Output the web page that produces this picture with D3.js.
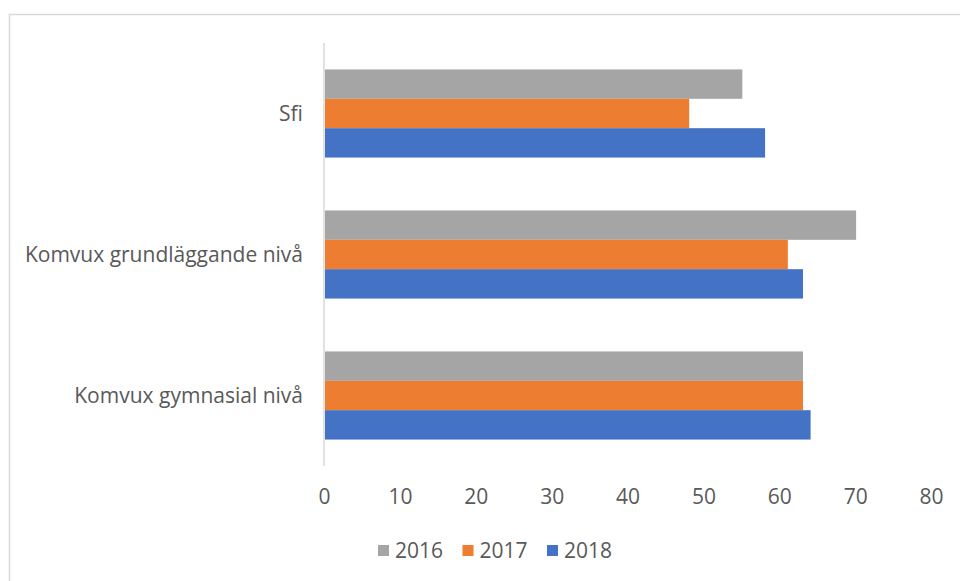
<!DOCTYPE html>
<html>
<head>
<meta charset="utf-8">
<script src="https://cdn.jsdelivr.net/npm/d3@7"></script>
<style>
  html, body { margin: 0; padding: 0; background: #fff; }
  svg { display: block; }
  text { font-family: "Open Sans", sans-serif; fill: #595959; }
</style>
</head>
<body>
<svg id="chart" width="960" height="581"></svg>
<script>
// ---- data ----
const categories = ["Sfi", "Komvux grundläggande nivå", "Komvux gymnasial nivå"];
const seriesNames = ["2016", "2017", "2018"];
const values2016 = [55, 70, 63];
const values2017 = [48, 61, 63];
const values2018 = [58, 63, 64];
const tickValues = [0, 10, 20, 30, 40, 50, 60, 70, 80];
const colors = ["#A5A5A5", "#ED7D31", "#4472C4"];

const seriesValues = [values2016, values2017, values2018];

const svg = d3.select("#chart");

// outer chart border (extends past right and bottom edges)
svg.append("rect")
  .attr("x", 9.5).attr("y", 14.5)
  .attr("width", 1000).attr("height", 1000)
  .attr("fill", "none").attr("stroke", "#d9d9d9").attr("stroke-width", 1.5);

const x = d3.scaleLinear().domain([0, 80]).range([325, 932]);
const y = d3.scaleBand().domain(categories).range([43, 466])
  .paddingInner(0.375).paddingOuter(0.1875);
const ySub = d3.scaleBand().domain(seriesNames).range([0, y.bandwidth()]);

// bars
const groups = svg.append("g").selectAll("g")
  .data(categories).join("g")
  .attr("transform", d => `translate(0,${y(d)})`);

groups.selectAll("rect")
  .data((c, i) => seriesNames.map((s, j) => ({ s, j, v: seriesValues[j][i] })))
  .join("rect")
  .attr("x", x(0))
  .attr("y", d => ySub(d.s))
  .attr("width", d => x(d.v) - x(0))
  .attr("height", ySub.bandwidth())
  .attr("fill", d => colors[d.j]);

// vertical axis line
svg.append("line")
  .attr("x1", x(0) - 1).attr("x2", x(0) - 1)
  .attr("y1", 43).attr("y2", 466)
  .attr("stroke", "#d9d9d9").attr("stroke-width", 1.5);

// category labels
const yAxis = d3.axisLeft(y).tickSize(0).tickPadding(0);
const gy = svg.append("g").attr("transform", "translate(303,0)").call(yAxis);
gy.select(".domain").remove();
gy.selectAll("text")
  .style("font-family", '"Open Sans", sans-serif')
  .style("font-size", "21px")
  .attr("fill", "#595959")
  .attr("dy", "0.35em");

// x axis tick labels
const xAxis = d3.axisBottom(x).tickValues(tickValues).tickSize(0).tickPadding(0);
const gx = svg.append("g").attr("transform", "translate(-1,497)").call(xAxis);
gx.select(".domain").remove();
gx.selectAll("text")
  .style("font-family", '"Open Sans", sans-serif')
  .style("font-size", "21px")
  .attr("fill", "#595959")
  .attr("y", 0)
  .attr("dy", "0.35em");

// legend
const legendX = d3.scalePoint().domain(seriesNames).range([378, 547]);
const legend = svg.append("g").selectAll("g")
  .data(seriesNames).join("g")
  .attr("transform", d => `translate(${legendX(d)},551)`);
legend.append("rect")
  .attr("x", 0).attr("y", -6)
  .attr("width", 11).attr("height", 11)
  .attr("fill", (d, i) => colors[i]);
legend.append("text")
  .attr("x", 17).attr("y", 0).attr("dy", "0.35em")
  .style("font-size", "21px")
  .text(d => d);
</script>
</body>
</html>
